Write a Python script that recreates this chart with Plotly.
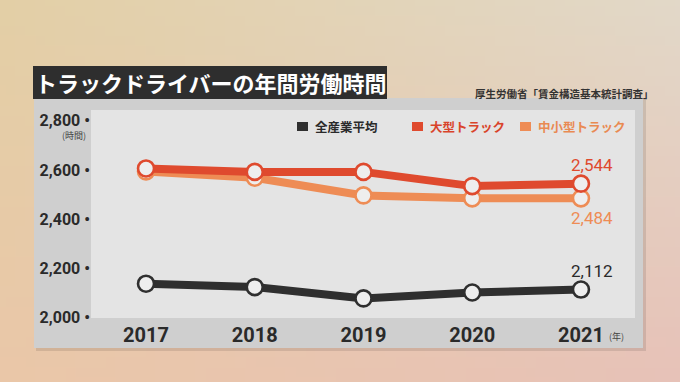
import base64, struct, zlib
import plotly.graph_objects as go

# ---- data ----
years = [2017, 2018, 2019, 2020, 2021]
series_names = ["全産業平均", "大型トラック", "中小型トラック"]
all_industry = [2136, 2122, 2076, 2100, 2112]
large_truck = [2606, 2592, 2592, 2534, 2544]
small_truck = [2594, 2568, 2496, 2484, 2484]
y_ticks = [2000, 2200, 2400, 2600, 2800]
title_text = "トラックドライバーの年間労働時間"
source_text = "厚生労働省「賃金構造基本統計調査」"

colors = ["#2f2f2f", "#df4a2e", "#ee8c55"]
W, H = 680, 382

# ---- background gradient as PNG ----
def gradient_png(w, h):
    tl, tr, bl, br = (227, 207, 166), (226, 216, 200), (234, 199, 168), (231, 194, 184)
    raw = b""
    for j in range(h):
        v = j / (h - 1)
        row = bytearray([0])
        for i in range(w):
            u = i / (w - 1)
            for c in range(3):
                top = tl[c] * (1 - u) + tr[c] * u
                bot = bl[c] * (1 - u) + br[c] * u
                row.append(int(round(top * (1 - v) + bot * v)))
        raw += bytes(row)
    def chunk(t, d):
        c = struct.pack(">I", len(d)) + t + d
        return c + struct.pack(">I", zlib.crc32(t + d) & 0xffffffff)
    png = b"\x89PNG\r\n\x1a\n" + chunk(b"IHDR", struct.pack(">IIBBBBB", w, h, 8, 2, 0, 0, 0))
    png += chunk(b"IDAT", zlib.compress(raw, 9)) + chunk(b"IEND", b"")
    return "data:image/png;base64," + base64.b64encode(png).decode()

def px(x):
    return x / W

def py(y):
    return 1 - y / H

fig = go.Figure()
order = [0, 2, 1]
all_vals = [all_industry, large_truck, small_truck]
for idx in order:
    fig.add_trace(go.Scatter(
        x=years, y=all_vals[idx], mode="lines+markers", name=series_names[idx],
        line=dict(color=colors[idx], width=8),
        marker=dict(size=16, color="#eeeeee", line=dict(color=colors[idx], width=2.6)),
        showlegend=False, hoverinfo="skip"))

font_num = "Roboto, 'Noto Sans CJK JP', sans-serif"
font_jp = "'Noto Sans CJK JP', sans-serif"

annotations = []
# end labels
for vals, col, ys in [(large_truck, colors[1], 19), (small_truck, colors[2], -20), (all_industry, "#2a2a2a", 19)]:
    annotations.append(dict(x=years[-1], y=vals[-1], xref="x", yref="y",
                            text=f"{vals[-1]:,}", showarrow=False, xshift=11, yshift=ys,
                            xanchor="center", yanchor="middle",
                            font=dict(family=font_num, size=17, color=col)))

def pannot(x, y, text, size, color, xanchor="center", family=font_jp):
    annotations.append(dict(x=px(x), y=py(y), xref="paper", yref="paper", text=text,
                            xanchor=xanchor, yanchor="middle", showarrow=False,
                            font=dict(family=family, size=size, color=color)))

pannot(211, 82, f"<b>{title_text}</b>", 22, "white")
pannot(656, 93, f"<b>{source_text}</b>", 10.5, "#333", xanchor="right")
pannot(74, 136, "(時間)", 9, "#444")
pannot(616, 336, "(年)", 9, "#444")

shapes = [
    dict(type="rect", xref="paper", yref="paper", x0=px(36), x1=px(646), y0=py(351), y1=py(100),
         fillcolor="rgba(0,0,0,0.10)", line_width=0, layer="below"),
    dict(type="rect", xref="paper", yref="paper", x0=px(34), x1=px(643), y0=py(348), y1=py(98),
         fillcolor="#cfcfcf", line_width=0, layer="below"),
    dict(type="rect", xref="x domain", yref="y domain", x0=0, x1=1, y0=0, y1=1,
         fillcolor="#e4e4e4", line_width=0, layer="below"),
    dict(type="rect", xref="paper", yref="paper", x0=px(33), x1=px(387), y0=py(99), y1=py(66),
         fillcolor="#2e2e2e", line_width=0, layer="above"),
]
# legend
leg = [(297, 313), (412, 428), (520, 536)]
text_colors = ["#2a2a2a", "#d9432a", "#e98a52"]
for (sx, tx), c, tc, name in zip(leg, colors, text_colors, series_names):
    shapes.append(dict(type="rect", xref="paper", yref="paper", x0=px(sx), x1=px(sx + 11),
                       y0=py(131), y1=py(122), fillcolor=c, line_width=0))
    pannot(tx, 126.5, f"<b>{name}</b>", 12.5, tc, xanchor="left")

fig.update_layout(
    width=W, height=H, margin=dict(l=0, r=0, t=0, b=0, autoexpand=False),
    paper_bgcolor="#e4d2b5", plot_bgcolor="rgba(0,0,0,0)",
    images=[dict(source=gradient_png(68, 38), xref="paper", yref="paper", x=0, y=1,
                 sizex=1, sizey=1, sizing="stretch", layer="below", xanchor="left", yanchor="top")],
    xaxis=dict(domain=[px(91), px(635)], range=[2016.494, 2021.497], tickvals=years,
               ticktext=[str(y) for y in years], showgrid=False, zeroline=False, showline=False,
               ticks="", ticklabelstandoff=3,
               tickfont=dict(family=font_num, size=20, color="#2a2a2a", weight="bold")),
    yaxis=dict(domain=[py(318), py(110)], range=[2000 - 4, 2800 + 44.4], tickvals=y_ticks,
               ticktext=[f"{v:,} •" for v in y_ticks], showgrid=False, zeroline=False,
               showline=False, ticks="", ticklabelstandoff=0,
               tickfont=dict(family=font_num, size=16, color="#2a2a2a", weight="bold")),
    shapes=shapes, annotations=annotations,
)

fig.write_html("out.html", config={"displayModeBar": False},
               post_script="document.body.style.margin='0';document.body.style.overflow='hidden';")
